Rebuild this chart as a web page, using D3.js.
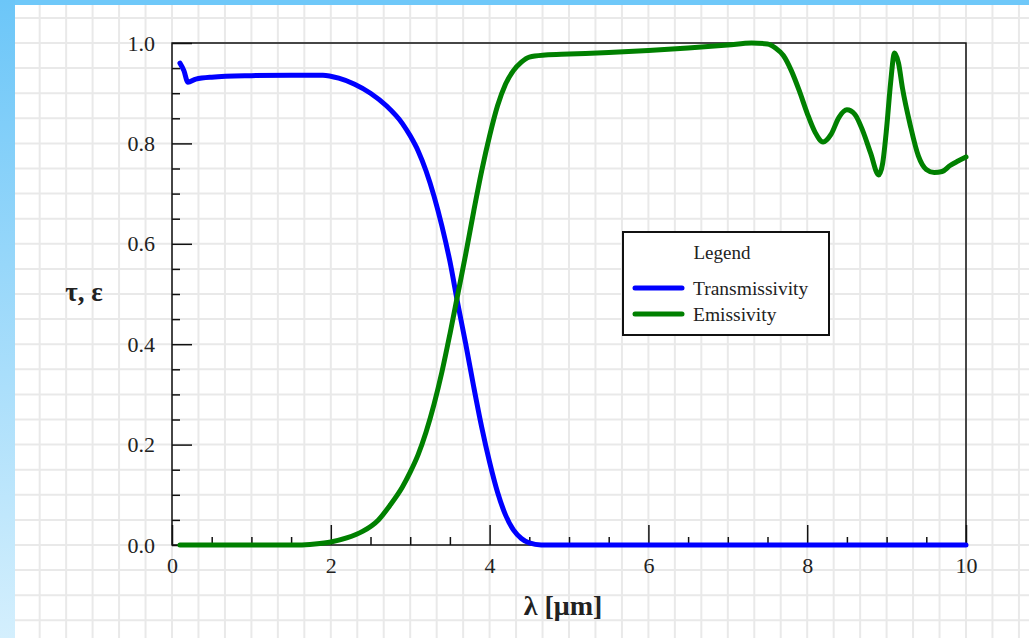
<!DOCTYPE html>
<html>
<head>
<meta charset="utf-8">
<script src="https://cdn.jsdelivr.net/npm/d3@7"></script>
<style>
  html, body { margin: 0; padding: 0; background: #fff; }
  svg { display: block; }
  text { font-family: "Liberation Serif", "Times New Roman", serif; fill: #222; }
</style>
</head>
<body>
<script>
// Spectral transmissivity and emissivity vs. wavelength
const transWavelength = [0.1, 0.15, 0.2, 0.3, 0.5, 1.0, 1.5, 1.9, 2.1, 2.3, 2.5, 2.7, 2.9, 3.0, 3.1, 3.2, 3.3, 3.4, 3.5, 3.6, 3.7, 3.8, 3.9, 4.0, 4.1, 4.2, 4.3, 4.4, 4.5, 4.65, 6, 8, 10];
const transmissivity = [0.96, 0.945, 0.922, 0.928, 0.932, 0.935, 0.936, 0.936, 0.93, 0.918, 0.9, 0.875, 0.84, 0.815, 0.785, 0.745, 0.695, 0.635, 0.565, 0.48, 0.4, 0.315, 0.235, 0.165, 0.105, 0.06, 0.03, 0.013, 0.004, 0, 0, 0, 0];

const emisWavelength = [0.1, 1.0, 1.6, 1.8, 2.0, 2.2, 2.4, 2.6, 2.75, 2.9, 3.0, 3.1, 3.2, 3.3, 3.4, 3.5, 3.6, 3.7, 3.8, 3.9, 4.0, 4.1, 4.2, 4.3, 4.4, 4.5, 4.7, 5.0, 5.5, 6.0, 6.5, 7.0, 7.3, 7.5, 7.6, 7.7, 7.8, 7.9, 8.0, 8.1, 8.2, 8.3, 8.4, 8.5, 8.6, 8.7, 8.8, 8.9, 8.95, 9.0, 9.05, 9.1, 9.15, 9.2, 9.3, 9.4, 9.5, 9.6, 9.7, 9.8, 9.9, 10];
const emissivity = [0, 0, 0, 0.002, 0.006, 0.014, 0.027, 0.05, 0.08, 0.115, 0.145, 0.18, 0.225, 0.28, 0.345, 0.42, 0.5, 0.58, 0.665, 0.745, 0.815, 0.875, 0.918, 0.945, 0.962, 0.972, 0.976, 0.978, 0.981, 0.985, 0.99, 0.996, 1.0, 0.998, 0.99, 0.975, 0.945, 0.905, 0.86, 0.822, 0.803, 0.818, 0.852, 0.867, 0.858, 0.825, 0.78, 0.737, 0.76, 0.83, 0.92, 0.98, 0.96, 0.91, 0.835, 0.775, 0.748, 0.742, 0.744, 0.756, 0.765, 0.773];

const xMajorTicks = [0, 2, 4, 6, 8, 10];
const yMajorTicks = [0, 0.2, 0.4, 0.6, 0.8, 1.0];
const xTitle = "λ [μm]";
const yTitle = "τ, ε";
const legendTitle = "Legend";
const seriesNames = ["Transmissivity", "Emissivity"];
const seriesColors = ["#0000ff", "#008000"];

const W = 1029, H = 638;
const margin = { top: 43, right: 63, bottom: 93, left: 172 };
const iw = W - margin.left - margin.right;
const ih = H - margin.top - margin.bottom;

const x = d3.scaleLinear().domain([0, 10]).range([margin.left, margin.left + iw]);
const y = d3.scaleLinear().domain([0, 1]).range([margin.top + ih, margin.top]);

const svg = d3.select("body").append("svg").attr("width", W).attr("height", H);

const defs = svg.append("defs");
const grad = defs.append("linearGradient").attr("id", "sideGrad")
  .attr("x1", 0).attr("y1", 0).attr("x2", 0).attr("y2", 1);
grad.append("stop").attr("offset", "0%").attr("stop-color", "#6cc6f8");
grad.append("stop").attr("offset", "100%").attr("stop-color", "#d4effd");

svg.append("rect").attr("width", W).attr("height", H).attr("fill", "#fff");

// grid across the whole sheet: 1/3 unit in x, 0.05 in y
const xGrid = d3.range(Math.floor(x.invert(0) * 3), Math.ceil(x.invert(W) * 3) + 1).map(k => k / 3);
const yGrid = d3.range(Math.floor(y.invert(H) * 20), Math.ceil(y.invert(0) * 20) + 1).map(k => k / 20);
const grid = svg.append("g").attr("stroke", "#e9e9e9").attr("stroke-width", 2);
grid.selectAll("line.v").data(xGrid).join("line").attr("class", "v")
  .attr("x1", d => x(d)).attr("x2", d => x(d)).attr("y1", 0).attr("y2", H);
grid.selectAll("line.h").data(yGrid).join("line").attr("class", "h")
  .attr("y1", d => y(d)).attr("y2", d => y(d)).attr("x1", 0).attr("x2", W);

// side and top bands
svg.append("rect").attr("x", 0).attr("y", 0).attr("width", W).attr("height", 5).attr("fill", "#6fc8f9");
svg.append("rect").attr("x", 0).attr("y", 0).attr("width", 15).attr("height", H).attr("fill", "url(#sideGrad)");

// axes with inward ticks
const xMinor = d3.range(0, 10.001, 0.5).filter(v => !xMajorTicks.includes(v));
const yMinor = d3.range(0, 21).map(k => k / 20).filter(v => !yMajorTicks.some(t => Math.abs(t - v) < 1e-9));

function styleAxis(g) {
  g.select(".domain").remove();
  g.selectAll(".tick line").attr("stroke", "#111").attr("stroke-width", 1.5);
  g.selectAll(".tick text").style("font-size", "22px").attr("fill", "#222");
}

svg.append("g").attr("transform", `translate(0,${y(0)})`)
  .call(d3.axisBottom(x).tickValues(xMinor).tickSize(-8).tickFormat(""))
  .call(styleAxis);
svg.append("g").attr("transform", `translate(0,${y(0)})`)
  .call(d3.axisBottom(x).tickValues(xMajorTicks).tickSize(-20).tickPadding(12).tickFormat(d3.format("d")))
  .call(styleAxis);
svg.append("g").attr("transform", `translate(${x(0)},0)`)
  .call(d3.axisLeft(y).tickValues(yMinor).tickSize(-8).tickFormat(""))
  .call(styleAxis);
svg.append("g").attr("transform", `translate(${x(0)},0)`)
  .call(d3.axisLeft(y).tickValues(yMajorTicks).tickSize(-20).tickPadding(17).tickFormat(d3.format(".1f")))
  .call(styleAxis);

// plot frame
svg.append("rect").attr("x", x(0)).attr("y", y(1)).attr("width", x(10) - x(0)).attr("height", y(0) - y(1))
  .attr("fill", "none").attr("stroke", "#111").attr("stroke-width", 1.5);

// curves
const line = d3.line().x(d => x(d[0])).y(d => y(d[1])).curve(d3.curveMonotoneX);
const series = [
  d3.zip(transWavelength, transmissivity),
  d3.zip(emisWavelength, emissivity)
];
series.forEach((pts, i) => {
  svg.append("path").datum(pts).attr("d", line)
    .attr("fill", "none").attr("stroke", seriesColors[i]).attr("stroke-width", 5)
    .attr("stroke-linejoin", "round").attr("stroke-linecap", "round");
});

// axis titles
svg.append("text").attr("x", 84).attr("y", 301).attr("text-anchor", "middle")
  .style("font-size", "27px").style("font-weight", "bold").text(yTitle);
svg.append("text").attr("x", 563).attr("y", 615).attr("text-anchor", "middle")
  .style("font-size", "28px").style("font-weight", "bold").text(xTitle);

// legend
const lg = svg.append("g").attr("transform", "translate(623,232)");
lg.append("rect").attr("width", 206).attr("height", 103).attr("fill", "#fff")
  .attr("stroke", "#111").attr("stroke-width", 2);
lg.append("text").attr("x", 99).attr("y", 27).attr("text-anchor", "middle")
  .style("font-size", "19px").text(legendTitle);
seriesNames.forEach((name, i) => {
  const yy = 56 + i * 26;
  lg.append("line").attr("x1", 12).attr("x2", 59).attr("y1", yy).attr("y2", yy)
    .attr("stroke", seriesColors[i]).attr("stroke-width", 5).attr("stroke-linecap", "round");
  lg.append("text").attr("x", 70).attr("y", yy + 7).style("font-size", "19.5px").text(name);
});
</script>
</body>
</html>
